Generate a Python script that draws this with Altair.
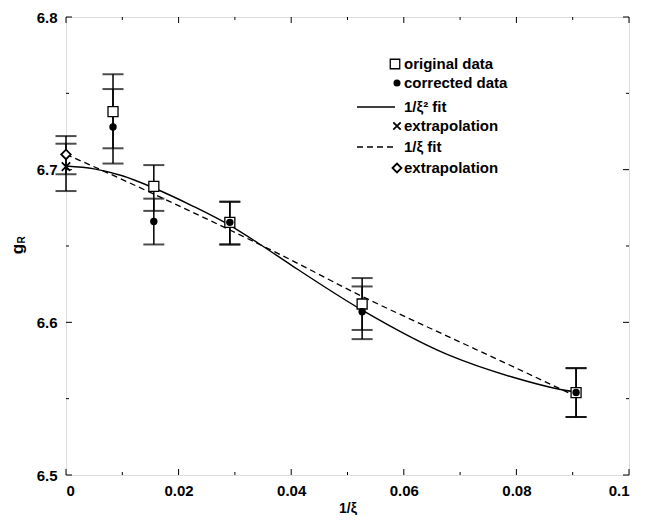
import altair as alt
import pandas as pd

# ---- data ----
x_pts = [0.00835, 0.0156, 0.0291, 0.0526, 0.0906]
orig_y = [6.738, 6.689, 6.6655, 6.612, 6.554]
orig_lo = [6.714, 6.673, 6.651, 6.595, 6.538]
orig_hi = [6.7625, 6.703, 6.679, 6.629, 6.570]
corr_y = [6.728, 6.666, 6.6655, 6.607, 6.554]
corr_lo = [6.704, 6.651, 6.651, 6.589, 6.538]
corr_hi = [6.7528, 6.681, 6.679, 6.6235, 6.570]

ext2_x = [0.0]
ext2_y = [6.702]
ext2_lo = [6.686]
ext2_hi = [6.717]
ext1_x = [0.0]
ext1_y = [6.710]
ext1_lo = [6.697]
ext1_hi = [6.722]

fit2_x = [0.0, 0.005, 0.010, 0.0156, 0.0226, 0.0291, 0.0345, 0.040, 0.0526, 0.0677, 0.0794, 0.0872, 0.0906]
fit2_y = [6.7024, 6.7005, 6.6960, 6.6880, 6.6760, 6.6635, 6.6510, 6.6375, 6.6080, 6.5790, 6.5640, 6.5565, 6.5543]
fit1_x = [0.0, 0.0048, 0.0096, 0.0156, 0.0291, 0.038, 0.0526, 0.0677, 0.0794, 0.0906]
fit1_y = [6.7100, 6.7022, 6.6942, 6.6840, 6.6605, 6.6445, 6.6170, 6.5910, 6.5710, 6.5515]

x_major = [0.0, 0.02, 0.04, 0.06, 0.08, 0.1]
x_minor = [0.01, 0.03, 0.05, 0.07, 0.09]
y_major = [6.5, 6.6, 6.7, 6.8]
y_minor = [6.55, 6.65, 6.75]

legend_labels = ["original data", "corrected data", "1/\u03be\u00b2 fit", "extrapolation", "1/\u03be fit", "extrapolation"]

W, H = 563, 458
FONT = "Liberation Sans"

xs = alt.Scale(domain=[0, 0.1], nice=False, zero=False)
ys = alt.Scale(domain=[6.5, 6.8], nice=False, zero=False)

XAX = alt.Axis(values=x_major, format="~g", ticks=False, domain=False, grid=False,
               labelFont=FONT, labelFontSize=15, labelFontWeight="bold", labelColor="black",
               labelPadding=8, title="1/\u03be", titleFont=FONT, titleFontSize=14,
               titleFontWeight="bold", titleColor="black", titlePadding=3)
YAX = alt.Axis(values=y_major, format=".1f", ticks=False, domain=False, grid=False,
               labelFont=FONT, labelFontSize=15, labelFontWeight="bold", labelColor="black",
               labelPadding=9, title=None)

fit2 = pd.DataFrame({"x": fit2_x, "y": fit2_y})
fit1 = pd.DataFrame({"x": fit1_x, "y": fit1_y})

bars = pd.DataFrame({
    "x": x_pts + x_pts + ext2_x + ext1_x,
    "lo": orig_lo + corr_lo + ext2_lo + ext1_lo,
    "hi": orig_hi + corr_hi + ext2_hi + ext1_hi,
})
caps = pd.DataFrame({"x": list(bars["x"]) * 2, "y": list(bars["lo"]) + list(bars["hi"])})
orig = pd.DataFrame({"x": x_pts, "y": orig_y})
corr = pd.DataFrame({"x": x_pts, "y": corr_y})
ext2 = pd.DataFrame({"x": ext2_x, "y": ext2_y})
ext1 = pd.DataFrame({"x": ext1_x, "y": ext1_y})

base_x = alt.X("x:Q", scale=xs, axis=XAX)
base_y = alt.Y("y:Q", scale=ys, axis=YAX)

solid = alt.Chart(fit2).mark_line(color="black", strokeWidth=1.4, interpolate="monotone").encode(x=base_x, y=base_y)
dashed = alt.Chart(fit1).mark_line(color="black", strokeWidth=1.3, strokeDash=[6, 4],
                                   interpolate="monotone").encode(x=base_x, y=base_y)

err = alt.Chart(bars).mark_rule(color="black", strokeWidth=1.5).encode(
    x=alt.X("x:Q", scale=xs), y=alt.Y("lo:Q", scale=ys), y2="hi:Q")
cap = alt.Chart(caps).mark_tick(color="black", orient="horizontal", size=21, thickness=2).encode(
    x=alt.X("x:Q", scale=xs), y=alt.Y("y:Q", scale=ys))

sq = alt.Chart(orig).mark_point(shape="square", filled=True, fill="white", stroke="black",
                                strokeWidth=1.3, size=100, opacity=1).encode(x=base_x, y=base_y)
dots = alt.Chart(corr).mark_point(shape="circle", filled=True, color="black", size=55, opacity=1).encode(x=base_x, y=base_y)
XPATH = "M-1,-1L1,1M1,-1L-1,1"
cross = alt.Chart(ext2).mark_point(shape=XPATH, filled=False, color="black", strokeWidth=1.8,
                                   size=70, opacity=1).encode(x=base_x, y=base_y)
diam = alt.Chart(ext1).mark_point(shape="diamond", filled=True, fill="white", stroke="black",
                                  strokeWidth=1.8, size=90, opacity=1).encode(x=base_x, y=base_y)

# frame ticks (inward, on all four sides)
def xticks(vals, length):
    d = pd.DataFrame({"x": vals})
    bot = alt.Chart(d).mark_rule(color="black", strokeWidth=1).encode(
        x=alt.X("x:Q", scale=xs), y=alt.value(H), y2=alt.value(H - length))
    top = alt.Chart(d).mark_rule(color="black", strokeWidth=1).encode(
        x=alt.X("x:Q", scale=xs), y=alt.value(0), y2=alt.value(length))
    return [bot, top]

def yticks(vals, length):
    d = pd.DataFrame({"y": vals})
    left = alt.Chart(d).mark_rule(color="black", strokeWidth=1).encode(
        y=alt.Y("y:Q", scale=ys), x=alt.value(0), x2=alt.value(length))
    right = alt.Chart(d).mark_rule(color="black", strokeWidth=1).encode(
        y=alt.Y("y:Q", scale=ys), x=alt.value(W), x2=alt.value(W - length))
    return [left, right]

tick_layers = xticks(x_major, 6) + xticks(x_minor, 3) + yticks(y_major, 6) + yticks(y_minor, 3)

# legend (hand placed)
one = pd.DataFrame({"a": [0]})
LX_SYM, LX_TXT, LX_L0, LX_L1 = 331, 338, 291, 329
LY = [47, 66, 90, 109, 130, 151]
leg = []
leg.append(alt.Chart(one).mark_point(shape="square", filled=True, fill="white", stroke="black",
                                     strokeWidth=1.3, size=90, opacity=1).encode(x=alt.value(LX_SYM - 2), y=alt.value(LY[0])))
leg.append(alt.Chart(one).mark_point(shape="circle", filled=True, color="black", size=50, opacity=1).encode(
    x=alt.value(LX_SYM), y=alt.value(LY[1])))
leg.append(alt.Chart(one).mark_rule(color="black", strokeWidth=1.4).encode(
    x=alt.value(LX_L0), x2=alt.value(LX_L1), y=alt.value(LY[2])))
leg.append(alt.Chart(one).mark_point(shape=XPATH, filled=False, color="black", strokeWidth=1.8, size=55, opacity=1).encode(
    x=alt.value(LX_SYM), y=alt.value(LY[3])))
leg.append(alt.Chart(one).mark_rule(color="black", strokeWidth=1.3, strokeDash=[6, 4]).encode(
    x=alt.value(LX_L0), x2=alt.value(LX_L1), y=alt.value(LY[4])))
leg.append(alt.Chart(one).mark_point(shape="diamond", filled=True, fill="white", stroke="black",
                                     strokeWidth=1.8, size=80, opacity=1).encode(x=alt.value(LX_SYM), y=alt.value(LY[5])))
for lab, ly in zip(legend_labels, LY):
    leg.append(alt.Chart(one).mark_text(text=lab, align="left", baseline="middle", font=FONT,
                                        fontSize=15, fontWeight="bold", color="black").encode(
        x=alt.value(LX_TXT), y=alt.value(ly)))

# y title g_R
ytitle = [
    alt.Chart(one).mark_text(text="g", angle=270, align="center", baseline="middle", font=FONT,
                             fontSize=17, fontWeight="bold", color="black").encode(x=alt.value(-48), y=alt.value(232)),
    alt.Chart(one).mark_text(text="R", angle=270, align="center", baseline="middle", font=FONT,
                             fontSize=10, fontWeight="bold", color="black").encode(x=alt.value(-44), y=alt.value(223)),
]

chart = alt.layer(
    solid, dashed, err, cap, sq, dots, cross, diam, *tick_layers, *leg, *ytitle
).properties(
    width=W, height=H,
    autosize=alt.AutoSizeParams(type="none"),
    padding={"left": 58, "top": 9, "right": 20, "bottom": 40},
).configure_view(stroke="black", strokeWidth=1.3).configure(background="white")

chart.save("out.html", embed_options={"renderer": "svg", "actions": False})
